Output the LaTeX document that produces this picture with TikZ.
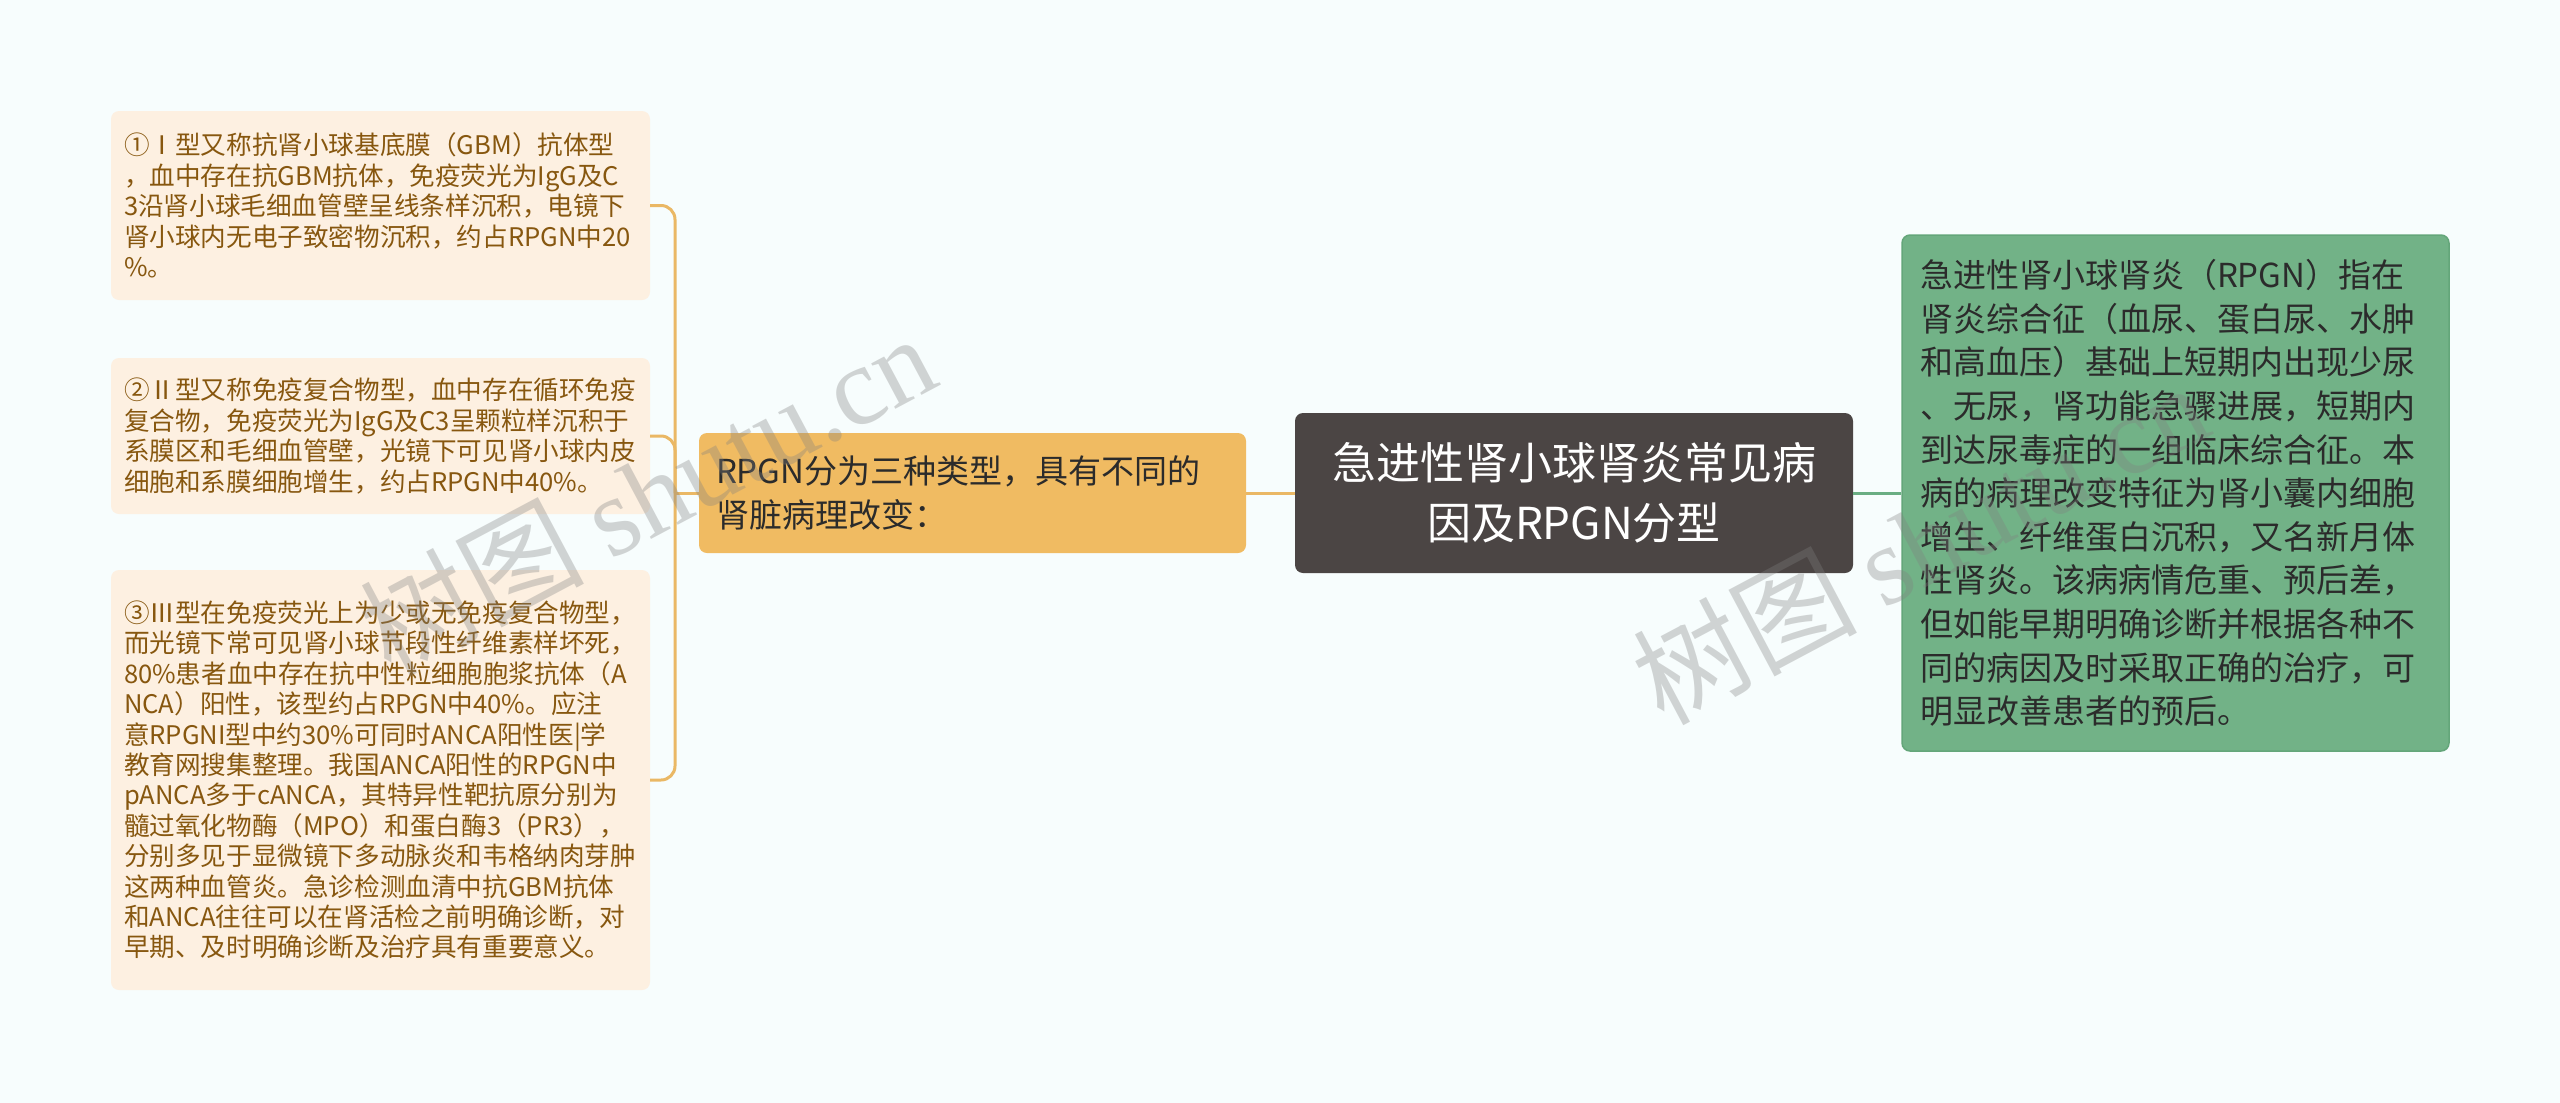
\documentclass[tikz,border=0pt]{standalone}
\usepackage{fontspec}
\setmainfont{Noto Sans CJK SC}
\newfontfamily\wmserif{Liberation Serif}
\newfontfamily\wmcjk{Noto Sans CJK SC}
\definecolor{bgc}{HTML}{F7FDFD}
\definecolor{creamc}{HTML}{FDF0E1}
\definecolor{brownc}{HTML}{87570F}
\definecolor{linec}{HTML}{EAB865}
\definecolor{orangec}{HTML}{F0BB62}
\definecolor{darkc}{HTML}{4B4544}
\definecolor{greenc}{HTML}{72B287}
\definecolor{greenb}{HTML}{64A67A}
\definecolor{greenl}{HTML}{6AAE83}
\definecolor{txtc}{HTML}{2B2B2B}
\begin{document}
\begin{tikzpicture}[x=1pt,y=-1pt,
  leftbox/.style={rounded corners=8pt, fill=creamc, text=brownc, align=left,
    text width=513pt, inner xsep=13pt, inner ysep=0pt, minimum width=539pt,
    font=\fontsize{25.6pt}{30.4pt}\selectfont},
  midbox/.style={rounded corners=8pt, fill=orangec, text=txtc, align=left,
    text width=513pt, inner xsep=17pt, inner ysep=0pt, minimum width=547pt,
    minimum height=120pt, font=\fontsize{33pt}{44pt}\selectfont},
  rootbox/.style={rounded corners=8pt, fill=darkc, text=white, align=center,
    inner sep=0pt, minimum width=558pt, minimum height=160pt,
    font=\fontsize{44pt}{60pt}\selectfont},
  greenbox/.style={rounded corners=8pt, fill=greenc, draw=greenb, line width=1.5pt,
    text=txtc, align=left, text width=511pt, inner xsep=18pt, inner ysep=0pt,
    minimum width=547pt, minimum height=516pt,
    font=\fontsize{33pt}{43.6pt}\selectfont},
  oline/.style={draw=linec, line width=3pt},
  gline/.style={draw=greenl, line width=3pt},
  wm/.style={text=black!50, text opacity=0.33, inner sep=0pt}
]
\useasboundingbox (0,0) rectangle (2560,1103);
\fill[bgc] (0,0) rectangle (2560,1103);

\coordinate (bj) at (675,493);

\node[leftbox, minimum height=189pt] (t1) at (380.5,205.5) {%
①Ⅰ型又称抗肾小球基底膜（GBM）抗体型\\
，血中存在抗GBM抗体，免疫荧光为IgG及C\\
3沿肾小球毛细血管壁呈线条样沉积，电镜下\\
肾小球内无电子致密物沉积，约占RPGN中20\\
\%。};

\node[leftbox, minimum height=156pt] (t2) at (380.5,436) {%
②Ⅱ型又称免疫复合物型，血中存在循环免疫\\
复合物，免疫荧光为IgG及C3呈颗粒样沉积于\\
系膜区和毛细血管壁，光镜下可见肾小球内皮\\
细胞和系膜细胞增生，约占RPGN中40\%。};

\node[leftbox, minimum height=420pt] (t3) at (380.5,780) {%
③Ⅲ型在免疫荧光上为少或无免疫复合物型，\\
而光镜下常可见肾小球节段性纤维素样坏死，\\
80\%患者血中存在抗中性粒细胞胞浆抗体（A\\
NCA）阳性，该型约占RPGN中40\%。应注\\
意RPGNI型中约30\%可同时ANCA阳性医|学\\
教育网搜集整理。我国ANCA阳性的RPGN中\\
pANCA多于cANCA，其特异性靶抗原分别为\\
髓过氧化物酶（MPO）和蛋白酶3（PR3），\\
分别多见于显微镜下多动脉炎和韦格纳肉芽肿\\
这两种血管炎。急诊检测血清中抗GBM抗体\\
和ANCA往往可以在肾活检之前明确诊断，对\\
早期、及时明确诊断及治疗具有重要意义。};

\node[midbox] (mid) at (972.5,493) {%
RPGN分为三种类型，具有不同的\\
肾脏病理改变：};

\node[rootbox] (root) at (1574,493) {%
急进性肾小球肾炎常见病\\
因及RPGN分型};

\node[greenbox] (gr) at (2175.5,493) {%
急进性肾小球肾炎（RPGN）指在\\
肾炎综合征（血尿、蛋白尿、水肿\\
和高血压）基础上短期内出现少尿\\
、无尿，肾功能急骤进展，短期内\\
到达尿毒症的一组临床综合征。本\\
病的病理改变特征为肾小囊内细胞\\
增生、纤维蛋白沉积，又名新月体\\
性肾炎。该病病情危重、预后差，\\
但如能早期明确诊断并根据各种不\\
同的病因及时采取正确的治疗，可\\
明显改善患者的预后。};

\draw[oline] (root.west) -- (mid.east);
\draw[gline] (root.east) -- (gr.west);
\draw[oline] (mid.west) -- (bj);
\draw[oline, rounded corners=14pt] (bj) |- (t1.east);
\draw[oline, rounded corners=14pt] (bj) |- (t2.east);
\draw[oline, rounded corners=14pt] (bj) |- (t3.east);

% watermarks
\node[wm, rotate=28] (wm1) at (647,493) {\fontsize{112pt}{112pt}\wmcjk 树图\ \wmserif shutu.cn};
\node[wm, rotate=28] (wm2) at (1920,542) {\fontsize{112pt}{112pt}\wmcjk 树图\ \wmserif shutu.cn};
\end{tikzpicture}
\end{document}
